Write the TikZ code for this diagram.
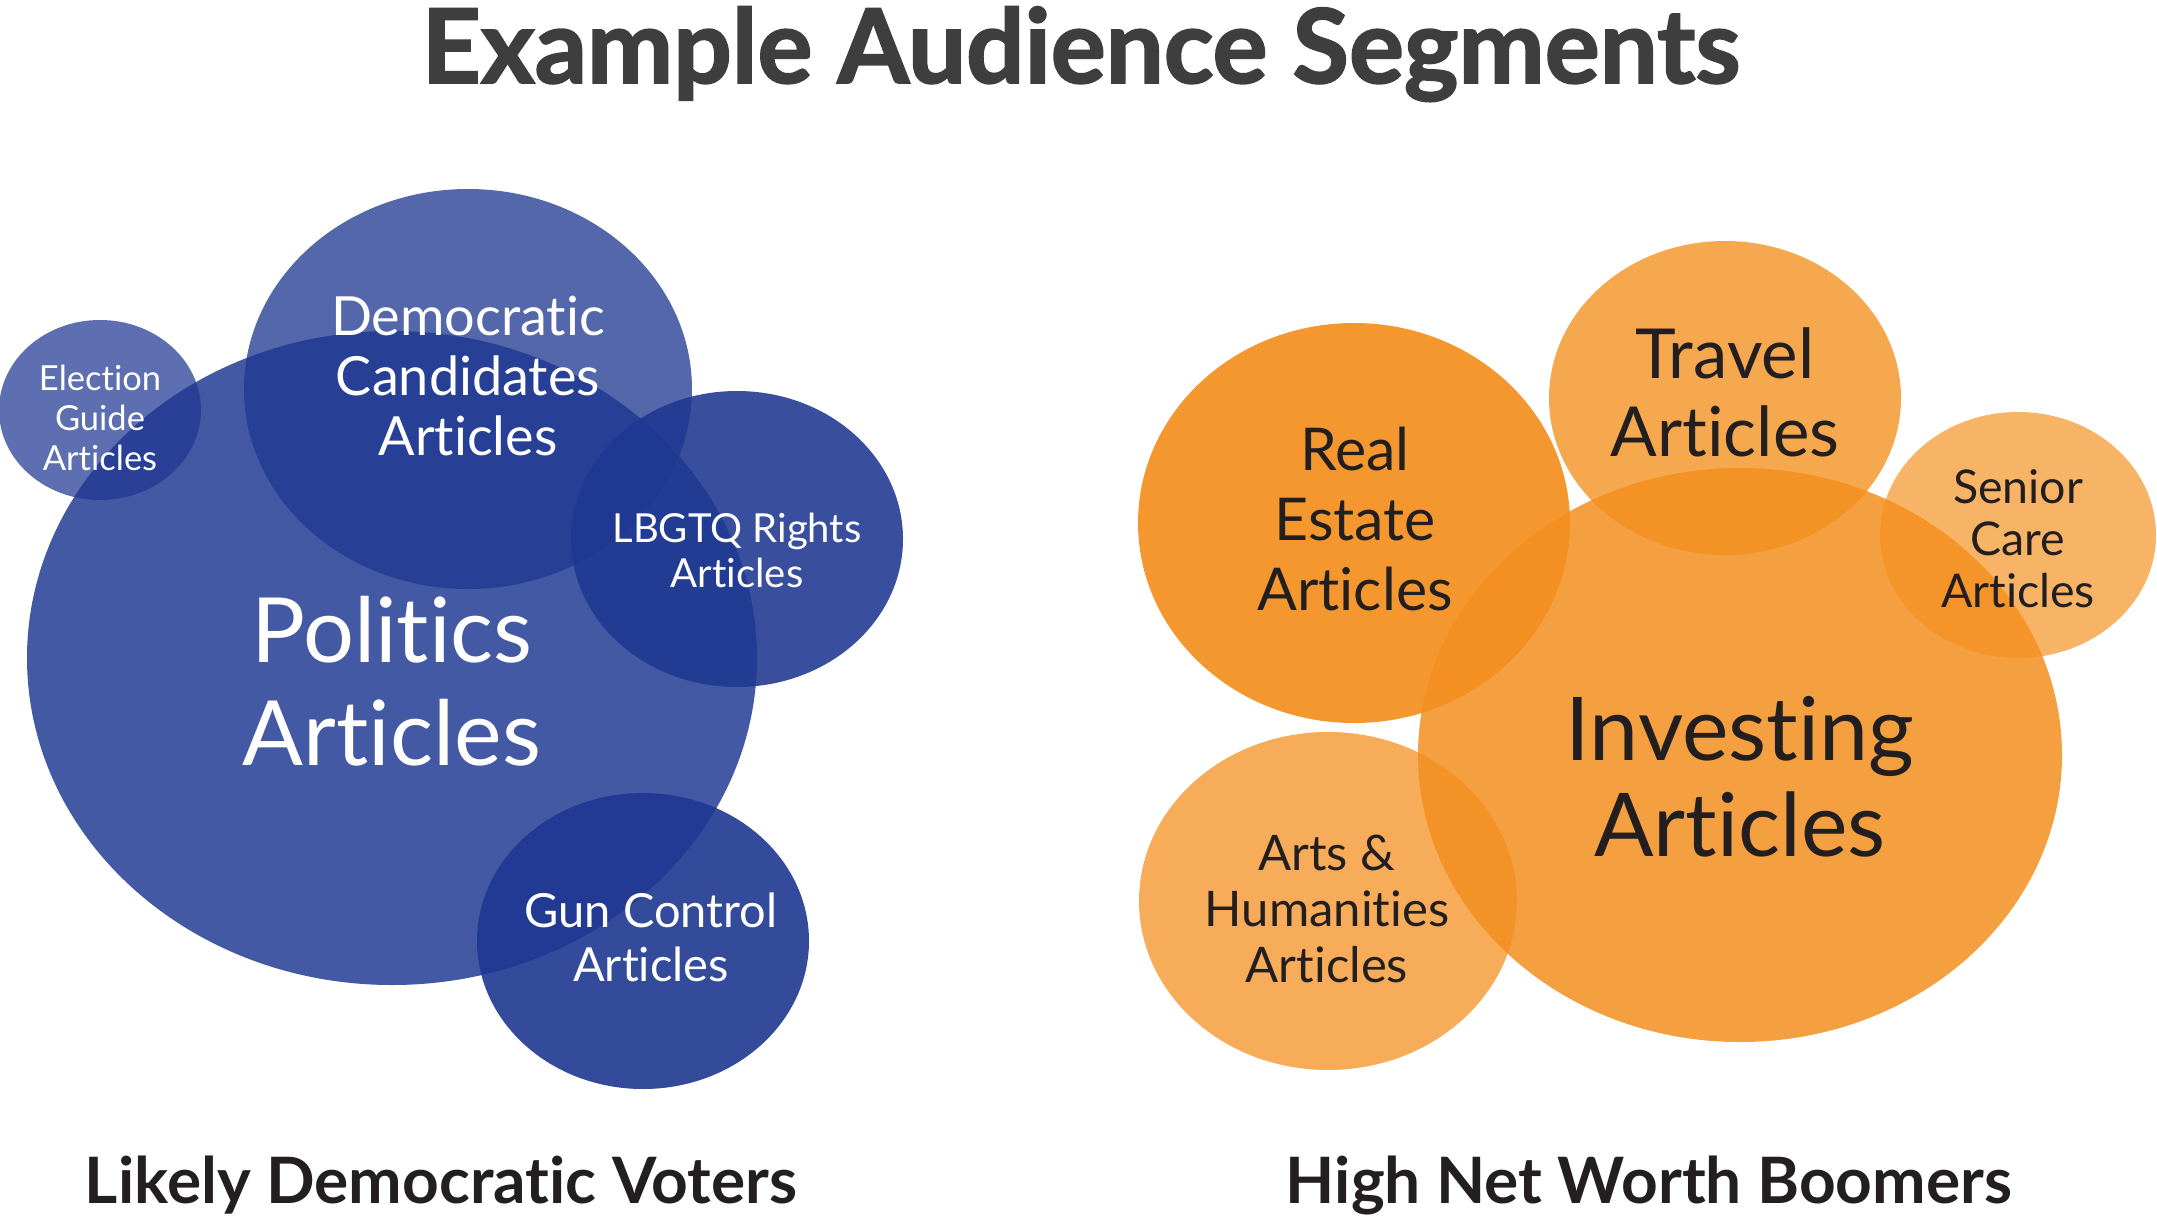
\documentclass[tikz,border=0pt]{standalone}
\usepackage{fontspec}
\setmainfont{Lato}[Ligatures={NoCommon}]
\newfontfamily\titlefont{Lato}[Ligatures={NoCommon}, BoldFeatures={FakeBold=1.8}]
\usetikzlibrary{shapes.geometric}
\definecolor{bluebase}{RGB}{30,55,145}
\definecolor{orangebase}{RGB}{243,143,30}
\definecolor{titlegray}{RGB}{62,62,62}
\definecolor{darktext}{RGB}{35,31,32}
\newcommand{\fs}[2]{\fontsize{#1}{#2}\selectfont}
\tikzset{
  bubble/.style={ellipse, draw=none, inner sep=0pt, minimum width=#1},
  bluebub/.style={fill=bluebase},
  orangebub/.style={fill=orangebase},
  wlabel/.style={text=white, align=center, inner sep=0pt},
  dlabel/.style={text=darktext, align=center, inner sep=0pt},
  grouplabel/.style={text=darktext, font=\bfseries\fs{64}{68}, anchor=base, inner sep=0pt},
}
\begin{document}
\begin{tikzpicture}[x=1pt,y=-1pt]
\useasboundingbox (0,0) rectangle (2157,1221);
% title
\node[text=titlegray, font=\titlefont\bfseries\fs{103}{106}, anchor=base, inner sep=0pt] (title) at (1081,83) {Example Audience Segments};
% blue bubbles
\node[bubble=730pt, minimum height=654pt, bluebub, fill opacity=.83] (politics) at (392,658) {};
\node[bubble=448pt, minimum height=400pt, bluebub, fill opacity=.76] (dem) at (468,389) {};
\node[bubble=202pt, minimum height=180pt, bluebub, fill opacity=.72] (election) at (100,410) {};
\node[bubble=332pt, minimum height=296pt, bluebub, fill opacity=.88] (lgbtq) at (737,539) {};
\node[bubble=332pt, minimum height=296pt, bluebub, fill opacity=.9] (gun) at (643,941) {};
% orange bubbles
\node[bubble=432pt, minimum height=400pt, orangebub, fill opacity=.93] (realestate) at (1354,523) {};
\node[bubble=352pt, minimum height=314pt, orangebub, fill opacity=.78] (travel) at (1725,398) {};
\node[bubble=276pt, minimum height=246pt, orangebub, fill opacity=.68] (senior) at (2018,535) {};
\node[bubble=644pt, minimum height=574pt, orangebub, fill opacity=.85] (investing) at (1740,755) {};
\node[bubble=378pt, minimum height=338pt, orangebub, fill opacity=.74] (arts) at (1328,901) {};
% labels
\node[wlabel, font=\fs{90}{103}] (tpol) at (392,681) {Politics\\Articles};
\node[wlabel, font=\fs{54}{60}] (tdem) at (468,376) {Democratic\\Candidates\\Articles};
\node[wlabel, font=\fs{34.5}{40}] (telec) at (100,418) {Election\\Guide\\Articles};
\node[wlabel, font=\fs{40}{45}] (tlgbtq) at (737,550) {LBGTQ Rights\\Articles};
\node[wlabel, font=\fs{47}{54}] (tgun) at (651,937) {Gun Control\\Articles};
\node[dlabel, font=\fs{59}{70}] (treal) at (1355,519) {Real\\Estate\\Articles};
\node[dlabel, font=\fs{69}{78}] (ttravel) at (1725,392) {Travel\\Articles};
\node[dlabel, font=\fs{46.5}{52}] (tsenior) at (2018,539) {Senior\\Care\\Articles};
\node[dlabel, font=\fs{88}{96}] (tinv) at (1740,777) {Investing\\Articles};
\node[dlabel, font=\fs{49}{56}] (tarts) at (1327,909) {Arts \&\\Humanities\\Articles};
% group labels
\node[grouplabel] (gleft) at (441,1203) {Likely Democratic Voters};
\node[grouplabel] (gright) at (1649,1203) {High Net Worth Boomers};
\end{tikzpicture}
\end{document}
